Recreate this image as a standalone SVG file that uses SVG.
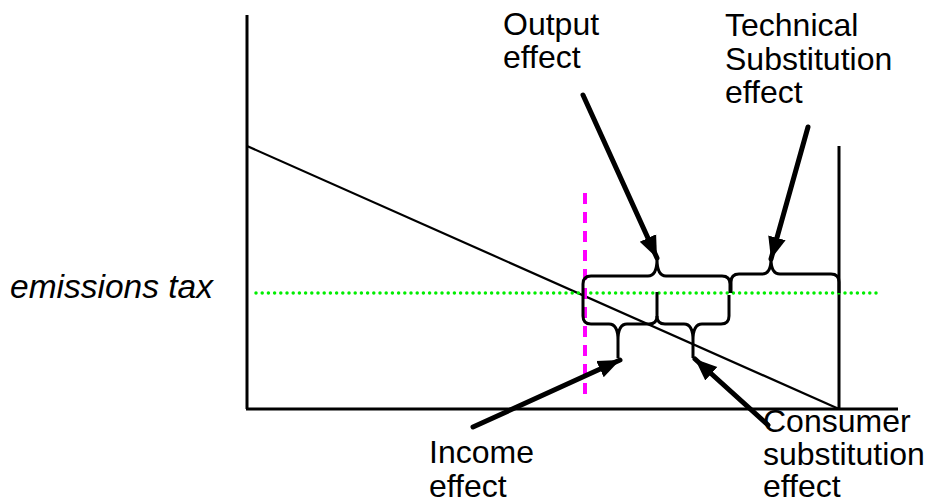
<svg xmlns="http://www.w3.org/2000/svg" width="932" height="499" viewBox="0 0 932 499">
<style>
.lbl{font-family:"Liberation Sans",Arial,sans-serif;font-size:32px;fill:#000}
.it{font-style:italic;font-size:33.5px}
.ax{stroke:#000;stroke-width:3;fill:none}
.br{stroke:#000;stroke-width:3;fill:none;stroke-linejoin:round}
.arr{stroke:#000;stroke-width:5;fill:none;stroke-linecap:round}
</style>
<defs>
<marker id="ah" markerUnits="userSpaceOnUse" markerWidth="24" markerHeight="20" refX="22" refY="10" orient="auto">
<path d="M0,1 L22,10 L0,19 Z" fill="#000"/>
</marker>
</defs>
<rect width="932" height="499" fill="#fff"/>
<g id="axes">
<line class="ax" x1="247" y1="15" x2="247" y2="409"/>
<line class="ax" x1="246" y1="409" x2="898" y2="409"/>
<line class="ax" x1="839" y1="146" x2="839" y2="409"/>
<line x1="247" y1="146" x2="839" y2="409" stroke="#000" stroke-width="2.2"/>
</g>
<g id="tax-line">
<line x1="256" y1="293" x2="877" y2="293" stroke="#00ee00" stroke-width="3.5" stroke-linecap="round" stroke-dasharray="0 6.2"/>
</g>
<g id="magenta-line">
<line x1="585" y1="193" x2="585" y2="398" stroke="#ff00ff" stroke-width="4" stroke-dasharray="11 8"/>
</g>
<g id="brace-output">
<path class="br" d="M583,295 L583,284 Q583,276 591,276 L648,276 Q657,276 657,259 Q657,276 666,276 L722,276 Q730,276 730,284 L730,293"/>
</g>
<g id="brace-technical">
<path class="br" d="M731,293 L731,282 Q731,274 739,274 L762,274 Q771,274 771,259 Q771,274 780,274 L831,274 Q839,274 839,282 L839,293"/>
</g>
<g id="brace-income">
<path class="br" d="M583,295 L583,316 Q583,324 591,324 L609,324 Q618,324 618,340 L618,358 M618,340 Q618,324 627,324 L649,324 Q657,324 657,316 L657,292"/>
</g>
<g id="brace-consumer">
<path class="br" d="M657,316 Q657,324 665,324 L684,324 Q693,324 693,340 L693,358 M693,340 Q693,324 702,324 L721,324 Q729,324 729,316 L729,295"/>
</g>
<g id="connectors">
<line class="arr" x1="583" y1="95" x2="657" y2="258" marker-end="url(#ah)"/>
<line class="arr" x1="808" y1="127" x2="771" y2="259" marker-end="url(#ah)"/>
<line class="arr" x1="473" y1="427" x2="620" y2="360" marker-end="url(#ah)"/>
<line class="arr" x1="768" y1="425" x2="695" y2="359" marker-end="url(#ah)"/>
</g>
<g id="label-output">
<text class="lbl" x="503" y="35">Output</text>
<text class="lbl" x="503" y="68">effect</text>
</g>
<g id="label-technical">
<text class="lbl" x="725" y="36">Technical</text>
<text class="lbl" x="725" y="70">Substitution</text>
<text class="lbl" x="725" y="103">effect</text>
</g>
<g id="label-tax">
<text class="lbl it" x="10" y="298">emissions tax</text>
</g>
<g id="label-income">
<text class="lbl" x="429" y="463">Income</text>
<text class="lbl" x="429" y="497">effect</text>
</g>
<g id="label-consumer">
<text class="lbl" x="763" y="432">Consumer</text>
<text class="lbl" x="763" y="465">substitution</text>
<text class="lbl" x="763" y="497">effect</text>
</g>
</svg>
